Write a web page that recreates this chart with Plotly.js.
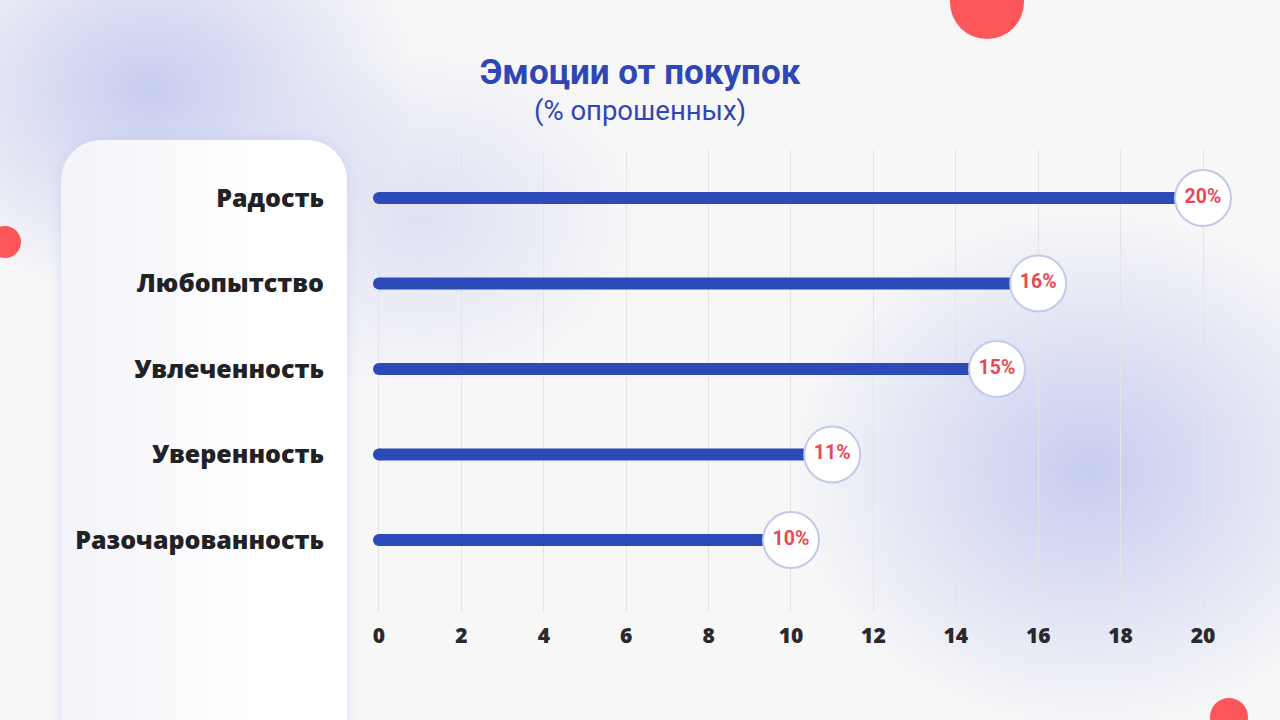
<!DOCTYPE html>
<html>
<head>
<meta charset="utf-8">
<script src="https://cdn.plot.ly/plotly-3.0.1.min.js"></script>
<style>
  html, body { margin:0; padding:0; width:1280px; height:720px; overflow:hidden; }
  body {
    background:
      radial-gradient(ellipse 270px 210px at 150px 90px, rgba(190,197,238,0.85), rgba(190,197,238,0) 100%),
      radial-gradient(ellipse 220px 170px at 420px 220px, rgba(205,210,240,0.6), rgba(205,210,240,0) 100%),
      radial-gradient(ellipse 300px 260px at 1090px 470px, rgba(190,197,238,0.85), rgba(190,197,238,0) 100%),
      #f7f7f8;
    position:relative;
  }
  .panel {
    position:absolute; left:61px; top:140px; width:286px; height:640px;
    border-radius:40px;
    background: linear-gradient(90deg, #f3f4fa 0%, #ffffff 70%);
    box-shadow: 0 0 12px rgba(190,197,235,0.55);
  }
  .dot { position:absolute; border-radius:50%; background:#fd565a; }
  #chart { position:absolute; left:0; top:0; width:1280px; height:720px; }
</style>
</head>
<body>
<div class="panel"></div>
<div class="dot" style="left:950px; top:-35px; width:74px; height:74px;"></div>
<div class="dot" style="left:-11px; top:226px; width:32px; height:32px;"></div>
<div class="dot" style="left:1210px; top:698px; width:38px; height:38px;"></div>
<div id="chart"></div>
<script>
const categories = ["Радость", "Любопытство", "Увлеченность", "Уверенность", "Разочарованность"];
const values = [20, 16, 15, 11, 10];
const valueLabels = ["20%", "16%", "15%", "11%", "10%"];
const tickValues = [0, 2, 4, 6, 8, 10, 12, 14, 16, 18, 20];

const blue = "#2d4bb8";

const traces = [
  {
    type: "bar", orientation: "h",
    x: values, y: categories,
    width: 0.14,
    marker: { color: blue },
    hoverinfo: "none"
  },
  {
    type: "scatter", mode: "markers",
    x: categories.map(() => 0), y: categories,
    marker: { color: blue, size: 12, line: { width: 0 } },
    hoverinfo: "none"
  },
  {
    type: "scatter", mode: "markers+text",
    x: values, y: categories,
    text: valueLabels,
    textposition: "middle center",
    textfont: { family: "Roboto", size: 19.5, color: "#e84a55", weight: 700 },
    marker: { color: "#ffffff", size: 56, line: { color: "#c3c9ea", width: 2 } },
    hoverinfo: "none", cliponaxis: false
  }
];

const layout = {
  width: 1280, height: 720,
  paper_bgcolor: "rgba(0,0,0,0)",
  plot_bgcolor: "rgba(0,0,0,0)",
  showlegend: false,
  margin: { l: 370, r: 40, t: 150, b: 108 },
  title: {
    text: "Эмоции от покупок",
    font: { family: "Roboto", size: 35, color: "#2f47b5", weight: 700 },
    x: 0.5, xref: "container", y: 1 - 72/720, yref: "container", yanchor: "middle", xanchor: "center"
  },
  annotations: [{
    text: "(% опрошенных)", xref: "paper", yref: "paper",
    x: (640 - 370) / 870, y: 1 + 39/462, xanchor: "center", yanchor: "middle",
    showarrow: false,
    font: { family: "Roboto", size: 27.5, color: "#2f47b5" }
  }],
  xaxis: {
    range: [-0.218, 20.898],
    tickvals: tickValues,
    showgrid: true, gridcolor: "#e4e4e8", gridwidth: 1,
    zeroline: false, showline: false,
    ticks: "", ticklabelstandoff: 9,
    tickfont: { family: "Open Sans", size: 21, color: "#2a2a2e", weight: 800 },
    fixedrange: true
  },
  yaxis: {
    type: "category",
    categoryorder: "array", categoryarray: categories,
    range: [4.842, -0.561],
    showgrid: false, zeroline: false, showline: false,
    ticks: "", ticklabelstandoff: 45,
    tickfont: { family: "Open Sans", size: 25, color: "#222226", weight: 800 },
    fixedrange: true
  }
};

Plotly.newPlot("chart", traces, layout, { staticPlot: true });
</script>
</body>
</html>
